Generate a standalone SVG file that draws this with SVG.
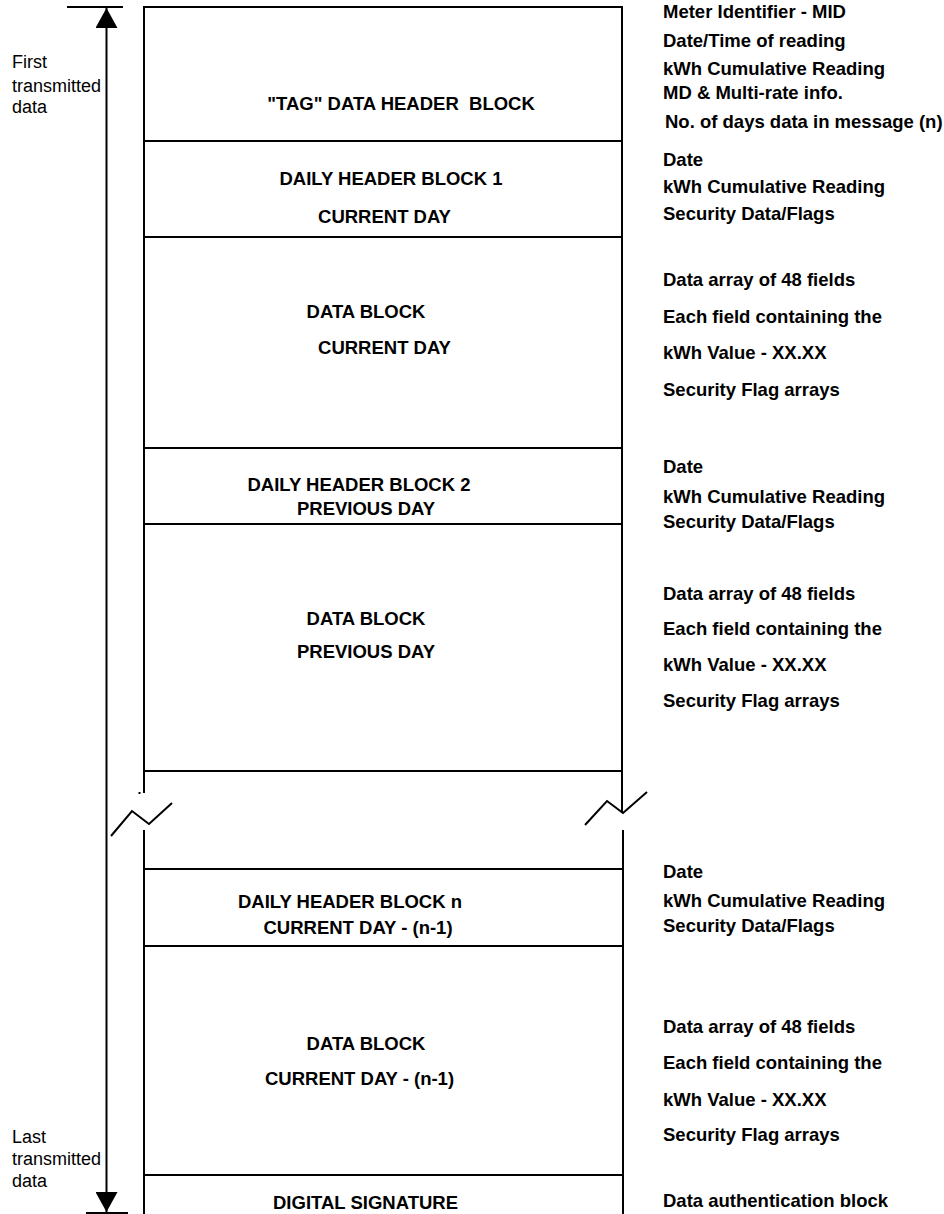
<svg xmlns="http://www.w3.org/2000/svg" width="944" height="1214" viewBox="0 0 944 1214">
<style>
.ln{stroke:#000;stroke-width:2;fill:none}
.b{font-family:"Liberation Sans",Arial,sans-serif;font-weight:bold;font-size:18.5px;fill:#000}
.c{text-anchor:middle}
.r{font-family:"Liberation Sans",Arial,sans-serif;font-size:18px;fill:#000}
</style>
<defs>
<marker id="ah" viewBox="0 0 20 22" refX="20" refY="11" markerWidth="20" markerHeight="22" markerUnits="userSpaceOnUse" orient="auto-start-reverse">
<path d="M0,0 L20,11 L0,22 Z" fill="#000"/>
</marker>
</defs>
<rect width="944" height="1214" fill="#fff"/>
<g id="connectors">
<line class="ln" x1="67" y1="7" x2="123" y2="7"/>
<line class="ln" x1="86" y1="1213" x2="128" y2="1213"/>
<line class="ln" x1="106.5" y1="8" x2="106.5" y2="1212" marker-start="url(#ah)" marker-end="url(#ah)"/>
</g>
<g id="left-labels">
<text class="r" x="12" y="68">First</text>
<text class="r" x="12" y="92">transmitted</text>
<text class="r" x="12" y="113">data</text>
<text class="r" x="12" y="1143">Last</text>
<text class="r" x="12" y="1165">transmitted</text>
<text class="r" x="12" y="1187">data</text>
</g>
<g id="frame-top">
<path class="ln" d="M144,793 L144,7 L622,7 L622,812"/>
<line class="ln" x1="144" y1="771" x2="622" y2="771"/>
<rect x="138.5" y="792" width="2" height="2" fill="#000"/>
<polyline class="ln" points="111,836 132,811 149,824 172,803"/>
<polyline class="ln" points="585,825 607,801 623,813 647,792"/>
</g>
<g id="frame-bottom">
<line class="ln" x1="144" y1="830" x2="144" y2="1214"/>
<line class="ln" x1="623" y1="830" x2="623" y2="1214"/>
</g>
<g id="tag-header">
<text class="b c" x="401" y="110" xml:space="preserve">"TAG" DATA HEADER  BLOCK</text>
<line class="ln" x1="144" y1="141" x2="622" y2="141"/>
</g>
<g id="daily-header-1">
<text class="b c" x="391" y="185">DAILY HEADER BLOCK 1</text>
<text class="b c" x="384.5" y="223">CURRENT DAY</text>
<line class="ln" x1="144" y1="237" x2="622" y2="237"/>
</g>
<g id="data-block-1">
<text class="b c" x="366" y="318">DATA BLOCK</text>
<text class="b c" x="384.5" y="354">CURRENT DAY</text>
<line class="ln" x1="144" y1="448" x2="622" y2="448"/>
</g>
<g id="daily-header-2">
<text class="b c" x="359" y="491">DAILY HEADER BLOCK 2</text>
<text class="b c" x="366" y="515">PREVIOUS DAY</text>
<line class="ln" x1="144" y1="524" x2="622" y2="524"/>
</g>
<g id="data-block-2">
<text class="b c" x="366" y="625">DATA BLOCK</text>
<text class="b c" x="366" y="658">PREVIOUS DAY</text>
</g>
<g id="daily-header-n">
<line class="ln" x1="144" y1="869" x2="623" y2="869"/>
<text class="b c" x="350" y="908">DAILY HEADER BLOCK n</text>
<text class="b c" x="358" y="934">CURRENT DAY - (n-1)</text>
<line class="ln" x1="144" y1="946" x2="623" y2="946"/>
</g>
<g id="data-block-n">
<text class="b c" x="366" y="1050">DATA BLOCK</text>
<text class="b c" x="359.5" y="1085">CURRENT DAY - (n-1)</text>
<line class="ln" x1="144" y1="1175" x2="623" y2="1175"/>
</g>
<g id="digital-signature">
<text class="b c" x="365.5" y="1209">DIGITAL SIGNATURE</text>
</g>
<g id="right-labels">
<text class="b" x="663" y="18">Meter Identifier - MID</text>
<text class="b" x="663" y="47">Date/Time of reading</text>
<text class="b" x="663" y="75">kWh Cumulative Reading</text>
<text class="b" x="663" y="99">MD &amp; Multi-rate info.</text>
<text class="b" x="665" y="128">No. of days data in message (n)</text>
<text class="b" x="663" y="166">Date</text>
<text class="b" x="663" y="193">kWh Cumulative Reading</text>
<text class="b" x="663" y="220">Security Data/Flags</text>
<text class="b" x="663" y="286">Data array of 48 fields</text>
<text class="b" x="663" y="323">Each field containing the</text>
<text class="b" x="663" y="359">kWh Value - XX.XX</text>
<text class="b" x="663" y="396">Security Flag arrays</text>
<text class="b" x="663" y="473">Date</text>
<text class="b" x="663" y="503">kWh Cumulative Reading</text>
<text class="b" x="663" y="528">Security Data/Flags</text>
<text class="b" x="663" y="600">Data array of 48 fields</text>
<text class="b" x="663" y="635">Each field containing the</text>
<text class="b" x="663" y="671">kWh Value - XX.XX</text>
<text class="b" x="663" y="707">Security Flag arrays</text>
<text class="b" x="663" y="878">Date</text>
<text class="b" x="663" y="907">kWh Cumulative Reading</text>
<text class="b" x="663" y="932">Security Data/Flags</text>
<text class="b" x="663" y="1033">Data array of 48 fields</text>
<text class="b" x="663" y="1069">Each field containing the</text>
<text class="b" x="663" y="1106">kWh Value - XX.XX</text>
<text class="b" x="663" y="1141">Security Flag arrays</text>
<text class="b" x="663" y="1207">Data authentication block</text>
</g>
</svg>
